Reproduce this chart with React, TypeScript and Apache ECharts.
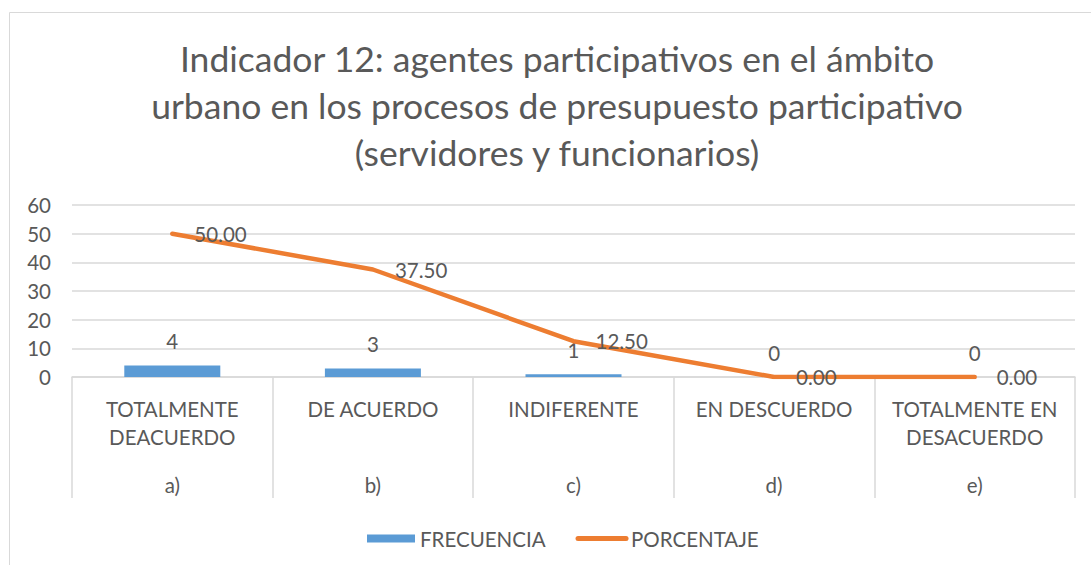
import React, { useEffect, useRef } from "react";
import * as echarts from "echarts";

const titleLines = [
  "Indicador 12: agentes participativos en el ámbito",
  "urbano en los procesos de presupuesto participativo",
  "(servidores y funcionarios)",
];
const categoryLines = [
  ["TOTALMENTE", "DEACUERDO"],
  ["DE ACUERDO"],
  ["INDIFERENTE"],
  ["EN DESCUERDO"],
  ["TOTALMENTE EN", "DESACUERDO"],
];
const categoryLetters = ["a)", "b)", "c)", "d)", "e)"];
const frecuencia = [4, 3, 1, 0, 0];
const porcentaje = [50.0, 37.5, 12.5, 0.0, 0.0];
const yTicks = { min: 0, max: 60, interval: 10 };

const FONT = "Lato, 'Noto Sans', sans-serif";
const TEXT = "#595959";
const FS = 20.5;

export default function App() {
  const ref = useRef<HTMLDivElement>(null);
  useEffect(() => {
    document.body.style.margin = "0";
    const chart = echarts.init(ref.current!, null, { renderer: "svg" });
    chart.setOption({
      animation: false,
      backgroundColor: "#ffffff",
      textStyle: { fontFamily: FONT, color: TEXT },
      graphic: [
        {
          type: "rect",
          shape: { x: 9.5, y: 12.5, width: 1200, height: 700 },
          style: { fill: "none", stroke: "#d9d9d9", lineWidth: 1 },
          silent: true,
          z: -1,
        },
        {
          type: "text",
          x: 557,
          y: 35,
          style: {
            text: titleLines.join("\n"),
            fontFamily: FONT,
            fontSize: 35.5,
            lineHeight: 47,
            fill: TEXT,
            align: "center",
            verticalAlign: "top",
          },
        },
      ],
      legend: {
        left: 362,
        top: 523,
        itemGap: 30,
        itemWidth: 48,
        itemHeight: 8,
        textStyle: { fontFamily: FONT, fontSize: FS, color: TEXT },
        data: [
          { name: "FRECUENCIA", icon: "rect" },
          {
            name: "PORCENTAJE",
            itemStyle: { opacity: 0 },
            lineStyle: { width: 5, cap: "round", color: "#ED7D31" },
          },
        ],
      },
      grid: { left: 72, right: 16, top: 205, bottom: 188, containLabel: false },
      xAxis: {
        type: "category",
        data: categoryLetters,
        boundaryGap: true,
        axisLine: { show: true, lineStyle: { color: "#d9d9d9", width: 1.5 } },
        axisTick: {
          show: true,
          length: 121,
          interval: 0,
          lineStyle: { color: "#d9d9d9", width: 1.5 },
        },
        axisLabel: {
          interval: 0,
          margin: 18,
          formatter: (v: string, i: number) => {
            const lines = categoryLines[i];
            const l1 = `{t|${lines[0]}}`;
            const l2 = lines[1] ? `{t|${lines[1]}}` : `{t| }`;
            return `${l1}\n${l2}\n{g| }\n{t|${categoryLetters[i]}}`;
          },
          rich: {
            t: { fontFamily: FONT, fontSize: FS, lineHeight: 28, color: TEXT },
            g: { fontSize: 10, lineHeight: 20 },
          },
        },
      },
      yAxis: {
        type: "value",
        min: yTicks.min,
        max: yTicks.max,
        interval: yTicks.interval,
        axisLine: { show: false },
        axisTick: { show: false },
        axisLabel: { fontFamily: FONT, fontSize: FS, color: TEXT, margin: 21 },
        splitLine: { lineStyle: { color: "#d9d9d9", width: 1.5 } },
      },
      series: [
        {
          name: "FRECUENCIA",
          type: "bar",
          data: frecuencia,
          barWidth: 96,
          itemStyle: { color: "#5B9BD5" },
          label: {
            show: true,
            position: "top",
            distance: 14,
            fontFamily: FONT,
            fontSize: FS,
            color: TEXT,
          },
        },
        {
          name: "PORCENTAJE",
          type: "line",
          data: porcentaje,
          symbol: "circle",
          symbolSize: 0,
          showSymbol: true,
          lineStyle: { color: "#ED7D31", width: 4.5, cap: "round", join: "round" },
          itemStyle: { color: "#ED7D31" },
          label: {
            show: true,
            position: "right",
            distance: 22,
            fontFamily: FONT,
            fontSize: FS,
            color: TEXT,
            formatter: (p: any) => Number(p.value).toFixed(2),
          },
          z: 3,
        },
      ],
    });
    return () => chart.dispose();
  }, []);
  return <div ref={ref} style={{ width: 1091, height: 565 }} />;
}
